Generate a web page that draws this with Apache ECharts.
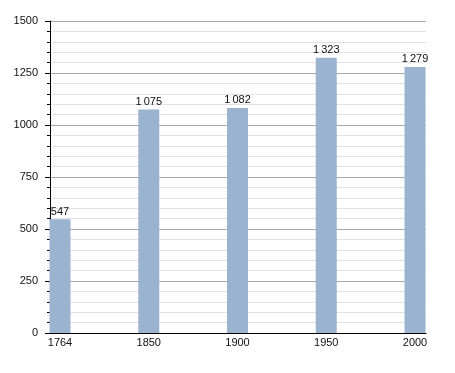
<!DOCTYPE html>
<html>
<head>
<meta charset="utf-8">
<script src="https://cdn.jsdelivr.net/npm/echarts@6/dist/echarts.min.js"></script>
<style>
html,body{margin:0;padding:0;background:#fff;}
#c{width:455px;height:373px;}
</style>
</head>
<body>
<div id="c"></div>
<script>
var categories = ['1764', '1850', '1900', '1950', '2000'];
var population = [547, 1075, 1082, 1323, 1279];
var yTicks = [0, 250, 500, 750, 1000, 1250, 1500];

function fmt(v) {
  return String(v).replace(/\B(?=(\d{3})+(?!\d))/g, '\u202f');
}

var chart = echarts.init(document.getElementById('c'), null, {renderer: 'canvas'});
chart.setOption({
  animation: false,
  backgroundColor: '#ffffff',
  textStyle: {fontFamily: 'Liberation Sans, Arial, sans-serif'},
  grid: [
    {left: 50, right: 29, top: 21, bottom: 40},
    {left: 60, right: 40, top: 21, bottom: 40}
  ],
  xAxis: [
    {
      gridIndex: 0, type: 'value', min: 0, max: 1,
      axisLine: {show: true, lineStyle: {color: '#000', width: 1}},
      axisTick: {show: false}, axisLabel: {show: false}, splitLine: {show: false}
    },
    {
      gridIndex: 1, type: 'category', data: categories, boundaryGap: false,
      axisLine: {show: false}, axisTick: {show: false},
      axisLabel: {color: '#111', fontSize: 11, margin: 4, fontFamily: 'Liberation Sans, Arial, sans-serif'},
      splitLine: {show: false}
    }
  ],
  yAxis: [
    {
      gridIndex: 0, type: 'value', min: yTicks[0], max: yTicks[yTicks.length - 1], interval: 250,
      axisLine: {show: true, lineStyle: {color: '#000', width: 1}},
      axisTick: {show: true, length: 5, lineStyle: {color: '#000'}},
      minorTick: {show: true, splitNumber: 5, length: 3, lineStyle: {color: '#000'}},
      axisLabel: {color: '#111', fontSize: 11, margin: 12, fontFamily: 'Liberation Sans, Arial, sans-serif',
        formatter: function (v) { return String(v); }},
      splitLine: {show: true, lineStyle: {color: '#a8a8a8', width: 1}},
      minorSplitLine: {show: true, lineStyle: {color: '#e2e2e2', width: 1}}
    },
    {
      gridIndex: 1, type: 'value', min: yTicks[0], max: yTicks[yTicks.length - 1], show: false,
      splitLine: {show: false}
    }
  ],
  series: [{
    type: 'bar',
    xAxisIndex: 1, yAxisIndex: 1,
    data: population,
    barWidth: 21,
    clip: false,
    itemStyle: {color: '#9ab3cf'},
    label: {
      show: true, position: 'top', distance: 2, color: '#111', fontSize: 11,
      fontFamily: 'Liberation Sans, Arial, sans-serif',
      formatter: function (p) { return fmt(p.value); }
    }
  }]
});
</script>
</body>
</html>
